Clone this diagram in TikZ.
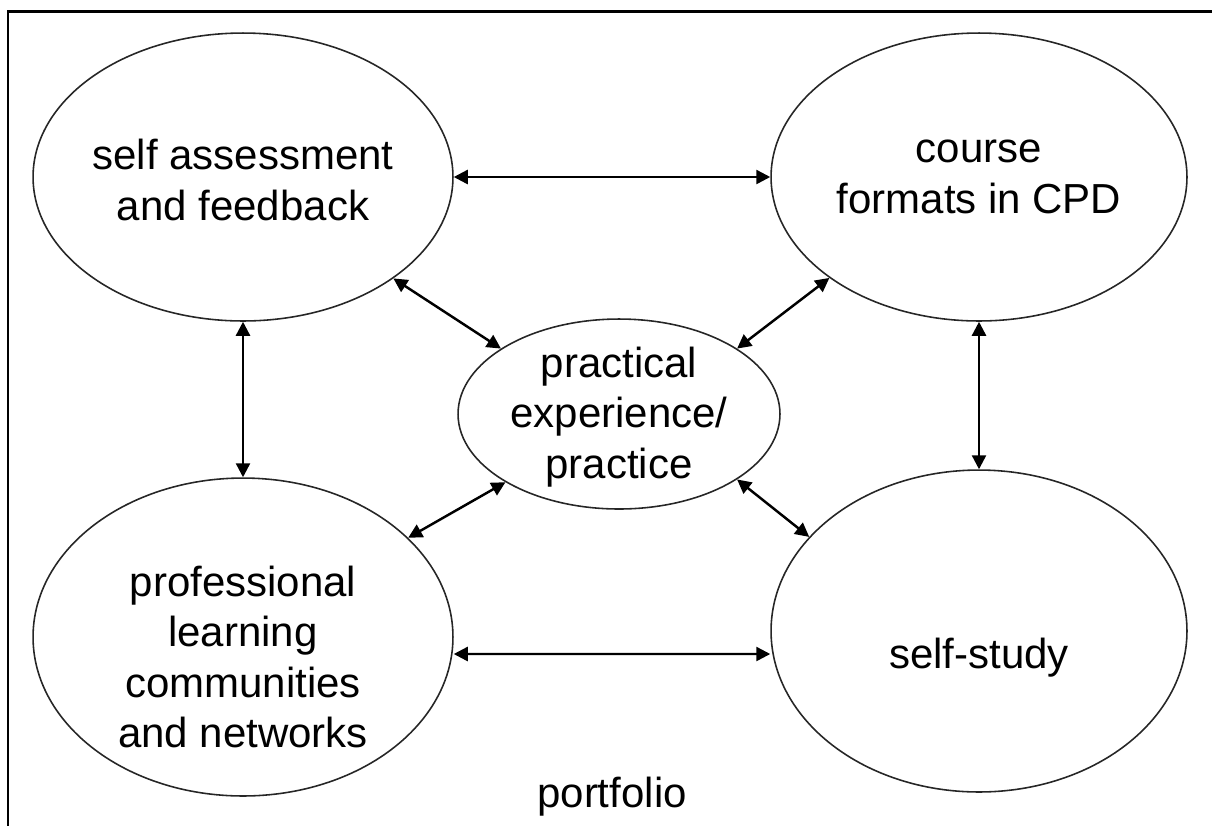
\documentclass[tikz,border=0pt]{standalone}
\usepackage{fontspec}
\setmainfont{Liberation Sans}
\usetikzlibrary{shapes.geometric,arrows.meta}
\tikzset{
  frame/.style={draw=black, line width=1.7pt},
  bubble/.style={ellipse, draw=black!85, line width=0.9pt, inner sep=0pt},
  txt/.style={align=center, font=\fontsize{23.9}{28.7}\selectfont},
  link/.style={draw=black, line width=1.4pt,
    {Triangle[length=2.8mm,width=2.8mm]}-{Triangle[length=2.8mm,width=2.8mm]}},
}
\begin{document}
\begin{tikzpicture}[x=0.02cm, y=-0.02cm]
  \useasboundingbox (0,0) rectangle (1212,826);
  \coordinate (FT) at (1212,11);
  \coordinate (FB) at (8,826);
  \draw[frame] (FT) -| (FB);

  % the five ellipses
  \node[bubble, minimum width=8.4cm, minimum height=5.76cm] (SA) at (243,177) {};
  \node[bubble, minimum width=8.32cm, minimum height=5.76cm] (CF) at (979,177) {};
  \node[bubble, minimum width=8.4cm, minimum height=6.36cm] (PL) at (243,637) {};
  \node[bubble, minimum width=8.32cm, minimum height=6.44cm] (SS) at (979,631) {};
  \node[bubble, minimum width=6.44cm, minimum height=3.8cm] (PE) at (619,414) {};

  % their texts
  \node[txt] (SAt) at ([yshift=-0.06cm]SA.center) {self assessment\\and feedback};
  \node[txt] (CFt) at (CF.center) {course\\formats in CPD};
  \node[txt] (PLt) at ([yshift=-0.4cm]PL.center) {professional\\learning\\communities\\and networks};
  \node[txt] (SSt) at ([yshift=-0.54cm]SS.center) {self-study};
  \node[txt] (PEt) at ([yshift=-0.06cm]PE.center) {practical\\experience/\\practice};

  % arrows
  \draw[link] (SA.east) -- (CF.west);
  \draw[link] ([yshift=-0.34cm]PL.east) -- ([yshift=-0.46cm]SS.west);
  \draw[link] (SA.south) -- (PL.north);
  \draw[link] (CF.south) -- (SS.north);
  \draw[link] (SA.-34) -- (PE.151);
  \draw[link] (CF.214) -- (PE.29);
  \draw[link] (PL.31) -- (PE.211);
  \draw[link] (SS.151) -- (PE.-29);

  \node[txt] (PF) at (612,797) {portfolio};
\end{tikzpicture}
\end{document}
